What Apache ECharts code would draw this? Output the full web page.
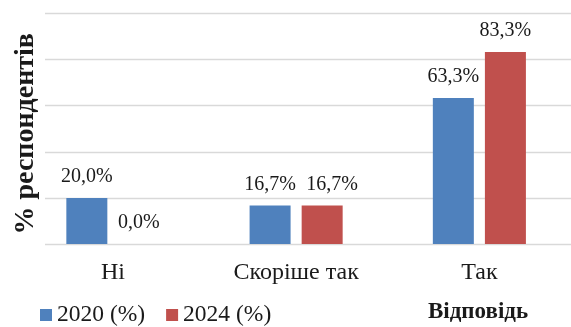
<!DOCTYPE html>
<html><head><meta charset="utf-8">
<script src="https://cdn.jsdelivr.net/npm/echarts@6/dist/echarts.min.js"></script>
<style>html,body{margin:0;padding:0;background:#fff}#c{width:571px;height:327px}</style>
</head><body><div id="c"></div>
<script>
const categories = ['Ні', 'Скоріше так', 'Так'];
const series2020 = [20.0, 16.7, 63.3];
const series2024 = [0.0, 16.7, 83.3];
const seriesNames = ['2020 (%)', '2024 (%)'];
const yName = '% респондентів';
const xName = 'Відповідь';

const font = 'Liberation Serif, Times New Roman, serif';
const chart = echarts.init(document.getElementById('c'), null, {renderer: 'canvas'});
const fmt = p => p.value.toFixed(1).replace('.', ',') + '%';
const lbl = {show: true, position: 'top', distance: 11, fontFamily: font, fontSize: 20, color: '#1a1a1a', formatter: fmt};
// Excel nudged the second "Скоріше так" label right to avoid overlap
const data2024 = series2024.map((v, i) => i === 1 ? {value: v, label: {offset: [10, 0]}} : v);
chart.setOption({
  animation: false,
  title: {text: xName, left: 428, top: 301, padding: 0, textStyle: {fontFamily: font, fontSize: 23, fontWeight: 'bold', color: '#1a1a1a'}},
  legend: {left: 40, top: 303, padding: 0, itemWidth: 12, itemHeight: 12, itemGap: 21, icon: 'rect',
    textStyle: {fontFamily: font, fontSize: 23.5, color: '#1a1a1a'}, data: seriesNames},
  grid: [
    {left: 21.25, width: 553.5, top: 13.5, height: 230.5},
    {left: 45, right: 0, top: 13.5, height: 230.5}
  ],
  xAxis: [
    {type: 'category', gridIndex: 0, data: categories, axisLine: {show: false}, axisTick: {show: false},
      axisLabel: {margin: 17, fontFamily: font, fontSize: 24, color: '#1a1a1a'}},
    {type: 'category', gridIndex: 1, data: categories, show: false}
  ],
  yAxis: [
    {type: 'value', gridIndex: 0, min: 0, max: 100, interval: 20, show: false},
    {type: 'value', gridIndex: 1, min: 0, max: 100, interval: 20, axisLabel: {show: false}, axisLine: {show: false}, axisTick: {show: false},
      splitLine: {show: true, lineStyle: {color: '#d9d9d9', width: 1.3}},
      name: yName, nameLocation: 'middle', nameRotate: 90, nameGap: 5,
      nameTextStyle: {fontFamily: font, fontSize: 28, fontWeight: 'bold', color: '#1a1a1a', padding: [0, 10, 0, 0]}}
  ],
  series: [
    {name: seriesNames[0], type: 'bar', xAxisIndex: 0, yAxisIndex: 0, data: series2020, barWidth: 41, barGap: '27%',
      itemStyle: {color: '#4F81BD'}, label: lbl},
    {name: seriesNames[1], type: 'bar', xAxisIndex: 0, yAxisIndex: 0, data: data2024, barWidth: 41, barGap: '27%',
      itemStyle: {color: '#C0504D'}, label: lbl}
  ]
});
</script></body></html>
